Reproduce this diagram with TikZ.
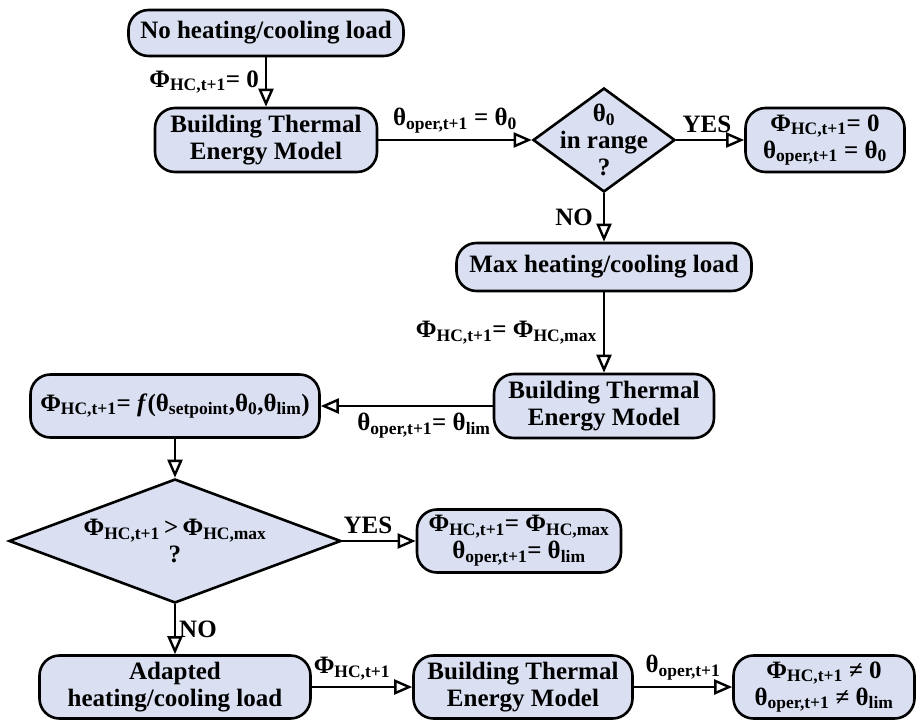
\documentclass[tikz,border=0pt]{standalone}
\usepackage{fontspec}
\setmainfont{Liberation Serif}
\usetikzlibrary{shapes.geometric,arrows.meta}
\definecolor{boxfill}{RGB}{218,224,242}
\newcommand{\Phc}{Φ\textsubscript{HC,t+1}}
\newcommand{\Phcmax}{Φ\textsubscript{HC,max}}
\newcommand{\Thop}{θ\textsubscript{oper,t+1}}
\newcommand{\Thz}{θ\textsubscript{0}}
\newcommand{\Thlim}{θ\textsubscript{lim}}
\tikzstyle{flowbox} = [draw=black, fill=boxfill, line width=2.6pt,
    rectangle, rounded corners=20pt, align=center, inner sep=2pt,
    font=\fontsize{25}{27}\selectfont\bfseries]
\tikzstyle{decision} = [draw=black, fill=boxfill, line width=2.6pt,
    diamond, align=center, font=\fontsize{25}{27}\selectfont\bfseries]
\tikzstyle{flow} = [line width=2.4pt, -{Triangle[open, length=18pt, width=15pt]}]
\tikzstyle{flowlabel} = [font=\fontsize{25}{27}\selectfont\bfseries, inner sep=6pt]

\begin{document}
\begin{tikzpicture}[x=1pt, y=-1pt]
                \useasboundingbox (0,0) rectangle (922,721);
                % first pass: no load
                \node [flowbox, minimum width=275pt, minimum height=46pt] (load0) at (266,33) {No heating/cooling load};
                \node [flowbox, minimum width=222pt, minimum height=64pt] (model1) at (266,140) {Building Thermal\\Energy Model};
                \node [decision, minimum width=142pt, minimum height=104pt, aspect=1.37, inner sep=-11pt] (check1) at (604,140) {\Thz\\in range\\?};
                \node [flowbox, minimum width=159pt, minimum height=64pt] (result1) at (825,140) {\Phc= 0\\\Thop\ = \Thz};
                % second pass: max load
                \node [flowbox, minimum width=295pt, minimum height=48pt] (maxload) at (604,267) {Max heating/cooling load};
                \node [flowbox, minimum width=220pt, minimum height=64pt] (model2) at (604,406) {Building Thermal\\Energy Model};
                \node [flowbox, minimum width=289pt, minimum height=63pt] (fbox) at (175,406) {\Phc= \textit{f}(θ\textsubscript{setpoint},\Thz,\Thlim)};
                \node [decision, minimum width=332pt, minimum height=124pt, aspect=2.65, inner sep=-4pt] (check2) at (175,541) {\Phc\,>\,\Phcmax\\?};
                \node [flowbox, minimum width=204pt, minimum height=63pt] (result2) at (519,541) {\Phc= \Phcmax\\\Thop= \Thlim};
                % third pass: adapted load
                \node [flowbox, minimum width=271pt, minimum height=63pt] (adapted) at (175,687) {Adapted\\heating/cooling load};
                \node [flowbox, minimum width=219pt, minimum height=63pt] (model3) at (523,687) {Building Thermal\\Energy Model};
                \node [flowbox, minimum width=181pt, minimum height=63pt] (result3) at (824,687) {\Phc\ ≠ 0\\\Thop\ ≠ \Thlim};

                \draw [flow] (load0) -- node [flowlabel, left] {\Phc= 0} (model1);
                \draw [flow] (model1) -- node [flowlabel, above] {\Thop\ = \Thz} (check1.west);
                \draw [flow] (check1.east) -- node [flowlabel, above, pos=0.45] {YES} (result1);
                \draw [flow] (check1.south) -- node [flowlabel, left, inner sep=10pt] {NO} (maxload);
                \draw [flow] (maxload) -- node [flowlabel, left] {\Phc= \Phcmax} (model2);
                \draw [flow] (model2) -- node [flowlabel, below, pos=0.4] {\Thop= \Thlim} (fbox);
                \draw [flow] (fbox) -- (check2.north);
                \draw [flow] (check2.east) -- node [flowlabel, above, pos=0.35] {YES} (result2);
                \draw [flow] (check2.south) -- node [flowlabel, right, inner sep=3pt] {NO} (adapted);
                \draw [flow] (adapted) -- node [flowlabel, above, pos=0.4] {\Phc} (model3);
                \draw [flow] (model3) -- node [flowlabel, above] {\Thop} (result3);
            \end{tikzpicture}
\end{document}
